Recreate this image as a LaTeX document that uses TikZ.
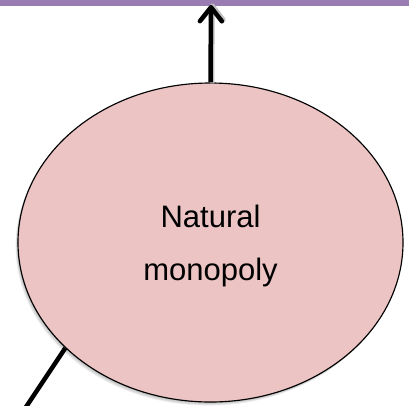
\documentclass[tikz,border=0pt]{standalone}
\usepackage{fontspec}
\setmainfont{Liberation Sans}
\usetikzlibrary{shapes.geometric,arrows.meta}
\definecolor{bandpurple}{RGB}{152,124,178}
\definecolor{bubblepink}{RGB}{236,196,196}
\tikzset{
  bubble/.style={ellipse, draw=black, line width=1.15pt, fill=bubblepink,
    minimum width=385pt, minimum height=319pt, inner sep=0pt},
  softshadow/.style={ellipse, fill=black, opacity=0.07,
    minimum width=385pt, minimum height=319pt, inner sep=0pt},
  caption/.style={align=center, font=\fontsize{31}{52.7}\selectfont, inner sep=0pt},
  thickline/.style={line width=4.5pt},
  uparrow/.style={thickline, -{Straight Barb[length=14pt,width=22pt,line cap=round,line join=round]}},
}
\begin{document}
\begin{tikzpicture}[x=1pt,y=-1pt]
  \useasboundingbox (0,0) rectangle (409,405);
  \clip (0,0) rectangle (409,405);
  % purple band along the top edge
  \fill[bandpurple] (0,0) rectangle (409,5.6);
  % soft shadow below the ellipse
  \foreach \d in {1,2,3,4}
    \node[softshadow] at (210.5-0.6*\d,242.5+0.9*\d) {};
  % the ellipse
  \node[bubble] (nm) at (210.5,242.5) {};
  \node[caption] (lbl) at (210.5,245.7) {Natural\\monopoly};
  % connectors
  \coordinate (rim) at (211,5);
  \coordinate (tail) at (16,422);
  \draw[uparrow, black!25] ([xshift=1.5pt,yshift=-1pt]nm.north) -- ([xshift=1.5pt,yshift=1.5pt]rim);
  \draw[uparrow] (nm.north) -- (rim);
  \draw[thickline] (nm.216.6) -- (tail);
\end{tikzpicture}
\end{document}
